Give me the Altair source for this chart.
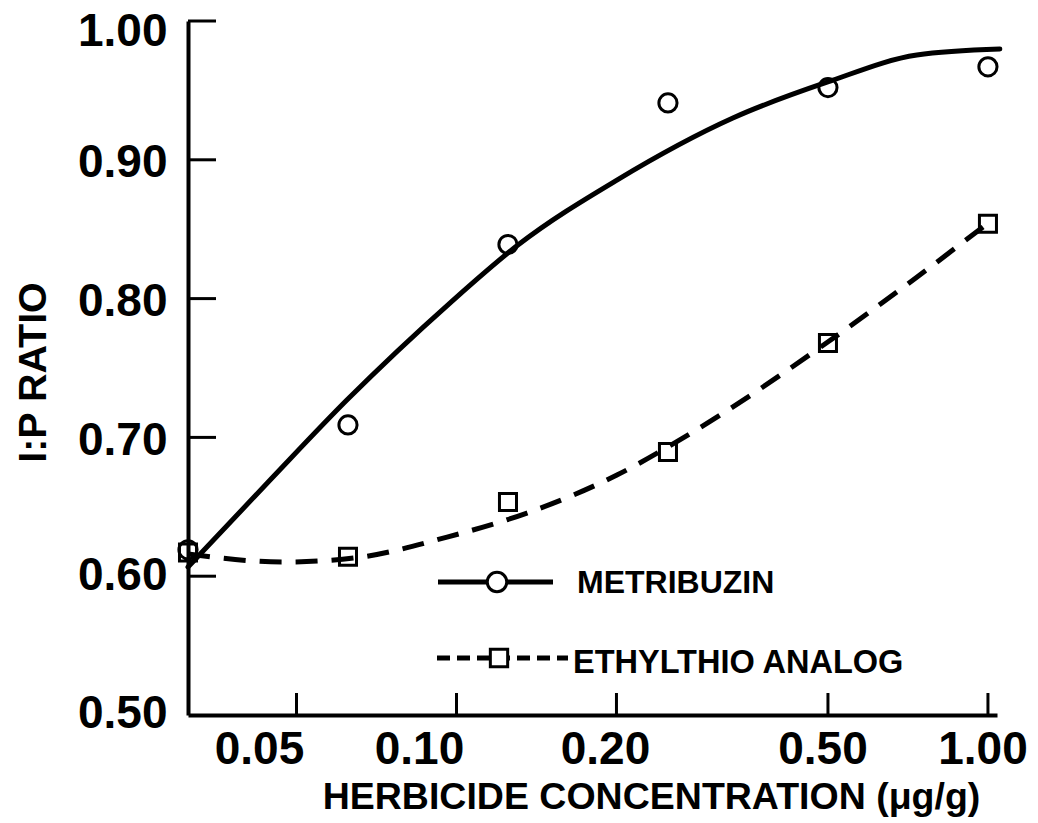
import altair as alt
import pandas as pd

# ---- data ----
dose = [0.03125, 0.0625, 0.125, 0.25, 0.5, 1.0]
metribuzin_obs = [0.619, 0.709, 0.839, 0.941, 0.952, 0.967]
ethylthio_obs = [0.617, 0.614, 0.6535, 0.6895, 0.768, 0.854]

metribuzin_curve_x = [0.03125, 0.0446, 0.0622, 0.0972, 0.1305, 0.2004,
                      0.3312, 0.4996, 0.7349, 1.053]
metribuzin_curve_y = [0.6066, 0.6693, 0.7269, 0.7968, 0.8386, 0.8854,
                      0.9301, 0.9561, 0.9755, 0.9798]

ethylthio_curve_x = [0.03125, 0.0472, 0.0642, 0.0960, 0.1357, 0.2004,
                     0.2786, 0.4996, 0.7357, 1.018]
ethylthio_curve_y = [0.616, 0.6102, 0.6131, 0.6282, 0.6455, 0.6729,
                     0.7039, 0.7687, 0.8156, 0.8566]

x_ticks = [0.05, 0.10, 0.20, 0.50, 1.00]
x_tick_labels = ["0.05", "0.10", "0.20", "0.50", "1.00"]
y_ticks = [0.60, 0.70, 0.80, 0.90, 1.00]
series = ["METRIBUZIN", "ETHYLTHIO ANALOG"]

FONT = "Liberation Sans"
W, H = 809, 694

xscale = alt.Scale(type="log", domain=[0.03125, 1.04], nice=False, zero=False)
yscale = alt.Scale(domain=[0.5, 1.0], nice=False, zero=False)

xaxis = alt.Axis(
    values=x_ticks, labels=False, title="HERBICIDE CONCENTRATION (μg/g)",
    ticks=False, tickSize=0,
    titleFontSize=37.5, titleX=463, titleY=93, titleAlign="center",
    titleBaseline="alphabetic", titleAnchor="start",
)
yaxis = alt.Axis(
    values=[0.5] + y_ticks, format=".2f", title="I:P RATIO",
    ticks=False, tickSize=0, labelPadding=21, labelFontSize=46,
    labelBaseline="middle",
    labelOffset={"condition": [{"test": "datum.value > 0.95", "value": 10},
                               {"test": "datum.value < 0.55", "value": -2},
                               {"test": "datum.value < 0.65", "value": -1}],
                 "value": 3},
    titleFontSize=39.5, titleX=-143, titleY=351, titleAngle=270,
    titleAlign="center", titleBaseline="alphabetic", titleAnchor="start",
)

X = alt.X("x:Q", scale=xscale, axis=xaxis)
Y = alt.Y("y:Q", scale=yscale, axis=yaxis)

met_curve = pd.DataFrame({"x": metribuzin_curve_x, "y": metribuzin_curve_y})
eth_curve = pd.DataFrame({"x": ethylthio_curve_x, "y": ethylthio_curve_y})
met_pts = pd.DataFrame({"x": dose, "y": metribuzin_obs})
eth_pts = pd.DataFrame({"x": dose, "y": ethylthio_obs})

met_line = alt.Chart(met_curve).mark_line(
    color="black", strokeWidth=5, interpolate="monotone", strokeCap="round"
).encode(x=X, y=Y)
eth_line = alt.Chart(eth_curve).mark_line(
    color="black", strokeWidth=5, interpolate="monotone", strokeDash=[22, 14]
).encode(x=X, y=Y)
met_points = alt.Chart(met_pts).mark_point(
    shape="circle", filled=False, size=330, strokeWidth=3, color="black", opacity=1
).encode(x=X, y=Y)
eth_points = alt.Chart(eth_pts).mark_point(
    shape="square", filled=False, size=290, strokeWidth=3, color="black", opacity=1
).encode(x=X, y=Y)

ticks_df = pd.DataFrame({"x": x_ticks, "label": x_tick_labels})
xtick_rules = alt.Chart(ticks_df).mark_rule(
    color="black", strokeWidth=3
).encode(x=X, y=alt.value(H), y2=alt.value(H - 22))
ytick_rules = alt.Chart(pd.DataFrame({"y": y_ticks})).mark_rule(
    color="black", strokeWidth=3
).encode(y=Y, x=alt.value(0), x2=alt.value(28))


def xlabels(lo, hi, dx):
    return alt.Chart(ticks_df).transform_filter(
        f"datum.x > {lo} && datum.x < {hi}"
    ).mark_text(
        align="center", baseline="top", fontSize=46, font=FONT,
        fontWeight="bold", color="black", dx=dx
    ).encode(x=X, y=alt.value(H + 13), text="label:N")


xlab_a = xlabels(0.0, 0.15, -37)
xlab_b = xlabels(0.15, 0.3, -11)
xlab_c = xlabels(0.3, 2.0, -5)

# ---- hand-drawn legend inside the plot ----
leg1 = pd.DataFrame({"label": [series[0]]})
leg2 = pd.DataFrame({"label": [series[1]]})
leg1_line = alt.Chart(leg1).mark_rule(color="black", strokeWidth=5).encode(
    x=alt.value(250), x2=alt.value(365), y=alt.value(561))
leg1_sym = alt.Chart(leg1).mark_point(
    shape="circle", filled=True, fill="white", stroke="black", size=380,
    strokeWidth=3, opacity=1).encode(x=alt.value(309), y=alt.value(561))
leg1_txt = alt.Chart(leg1).mark_text(
    align="left", baseline="alphabetic", fontSize=32, font=FONT,
    fontWeight="bold", color="black").encode(
    x=alt.value(389), y=alt.value(572), text="label:N")
leg2_line = alt.Chart(leg2).mark_rule(
    color="black", strokeWidth=5, strokeDash=[13, 7]).encode(
    x=alt.value(249), x2=alt.value(380), y=alt.value(637))
leg2_sym = alt.Chart(leg2).mark_point(
    shape="square", filled=True, fill="white", stroke="black", size=300,
    strokeWidth=3, opacity=1).encode(x=alt.value(311), y=alt.value(637))
leg2_txt = alt.Chart(leg2).mark_text(
    align="left", baseline="alphabetic", fontSize=32.5, font=FONT,
    fontWeight="bold", color="black").encode(
    x=alt.value(385), y=alt.value(652), text="label:N")

chart = alt.layer(
    met_line, eth_line, met_points, eth_points, xtick_rules, ytick_rules,
    xlab_a, xlab_b, xlab_c,
    leg1_line, leg1_sym, leg1_txt, leg2_line, leg2_sym, leg2_txt,
).properties(
    width=W, height=H,
    autosize=alt.AutoSizeParams(type="none"),
    padding={"left": 188, "top": 21, "right": 41, "bottom": 108},
    background="white",
).configure_view(stroke=None).configure_axis(
    grid=False, domainColor="black", domainWidth=4,
    labelColor="black", titleColor="black",
    labelFont=FONT, titleFont=FONT,
    labelFontWeight="bold", titleFontWeight="bold",
)

chart.save("out.html", embed_options={"renderer": "svg", "actions": False})
